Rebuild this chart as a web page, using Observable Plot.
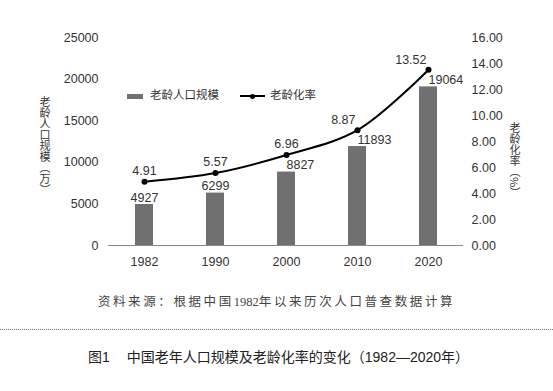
<!DOCTYPE html>
<html lang="zh-CN">
<head>
<meta charset="utf-8">
<script src="https://cdn.jsdelivr.net/npm/d3@7"></script>
<script src="https://cdn.jsdelivr.net/npm/@observablehq/plot@0.6"></script>
<style>
  html, body { margin: 0; padding: 0; background: #fff; }
  #wrap { position: relative; width: 553px; height: 391px; overflow: hidden;
          font-family: "Liberation Sans", "Noto Sans CJK SC", sans-serif; color: #333; }
  #chart { position: absolute; left: 0; top: 0; }
  .abs { position: absolute; white-space: nowrap; }
  .vt { writing-mode: vertical-rl; font-family: "Noto Sans CJK SC", sans-serif; font-size: 11px; line-height: 1; color: #333; }
  .leg { font-size: 11.5px; line-height: 1; }
</style>
</head>
<body>
<div id="wrap">
  <div id="chart"></div>
  <div class="abs vt" style="left:39px; top:96px; text-orientation: upright;">老龄人口规模（万）</div>
  <div class="abs vt" style="left:509px; top:122px;">老龄化率（%）</div>
  <div class="abs" style="left:127px; top:94px; width:16px; height:5px; background:#707070;"></div>
  <div class="abs leg" style="left:150px; top:90px;">老龄人口规模</div>
  <div class="abs" style="left:240px; top:95px; width:25px; height:2px; background:#000;"></div>
  <div class="abs" style="left:249.5px; top:93.5px; width:5px; height:5px; border-radius:50%; background:#000;"></div>
  <div class="abs leg" style="left:270px; top:90px;">老龄化率</div>
  <div class="abs" style="left:0; top:291px; width:553px; text-align:center; font-family:'Liberation Serif','Noto Sans CJK SC',serif; font-size:12.5px; letter-spacing:2.6px; color:#444;">资料来源：根据中国<span style="letter-spacing:0;">1982</span>年以来历次人口普查数据计算</div>
  <div class="abs" style="left:0; top:329px; width:553px; border-top:1px dotted #777;"></div>
  <div class="abs" style="left:88px; top:346px; font-size:14px; color:#222;">图1<span style="display:inline-block;width:17px;"></span>中国老年人口规模及老龄化率的变化（1982—2020年）</div>
</div>
<script>
const years = ["1982", "1990", "2000", "2010", "2020"];
const population = [4927, 6299, 8827, 11893, 19064];
const agingRate = [4.91, 5.57, 6.96, 8.87, 13.52];
const popTicks = [0, 5000, 10000, 15000, 20000, 25000];
const rateTicks = [0, 2, 4, 6, 8, 10, 12, 14, 16];

const popMax = 25000, rateMax = 16;
const k = popMax / rateMax;
const rows = years.map((year, i) => ({year, pop: population[i], rate: agingRate[i], r: agingRate[i] * k}));

const chart = Plot.plot({
  width: 553,
  height: 280,
  marginTop: 37,
  marginBottom: 35,
  marginLeft: 108,
  marginRight: 90,
  style: {fontFamily: "'Liberation Sans', Arial, sans-serif", fontSize: "12.5px", color: "#333", background: "#fff"},
  x: {type: "band", domain: years, paddingInner: 0.75, paddingOuter: 0.375},
  y: {domain: [0, popMax]},
  marks: [
    Plot.barY(rows, {x: "year", y: "pop", fill: "#707070"}),
    Plot.ruleY([0], {stroke: "#888", strokeWidth: 1}),
    Plot.line(rows, {x: "year", y: "r", curve: "catmull-rom", stroke: "#000", strokeWidth: 2}),
    Plot.dot(rows, {x: "year", y: "r", r: 3, fill: "#000"}),
    Plot.text(rows, {filter: (d, i) => i < 2, x: "year", y: "pop", text: d => String(d.pop), lineAnchor: "bottom", dy: -3, fill: "#333"}),
    Plot.text(rows, {filter: (d, i) => i >= 2, x: "year", y: "pop", text: d => String(d.pop), textAnchor: "start", lineAnchor: "bottom", dy: -3, fill: "#333"}),
    Plot.text(rows, {filter: (d, i) => i < 3, x: "year", y: "r", text: d => d.rate.toFixed(2), lineAnchor: "bottom", dy: -7, fill: "#333"}),
    Plot.text(rows, {filter: (d, i) => i >= 3, x: "year", y: "r", text: d => d.rate.toFixed(2), textAnchor: "end", lineAnchor: "bottom", dy: -6, dx: -2, fill: "#333"}),
    Plot.axisY({anchor: "left", ticks: popTicks, tickSize: 0, tickPadding: 10, label: null, tickFormat: d => String(d)}),
    Plot.axisY({anchor: "right", ticks: rateTicks.map(t => t * k), tickSize: 0, tickPadding: 8, label: null, tickFormat: d => (d / k).toFixed(2)}),
    Plot.axisX({tickSize: 0, tickPadding: 12, label: null})
  ]
});
document.getElementById("chart").appendChild(chart);
</script>
</body>
</html>
